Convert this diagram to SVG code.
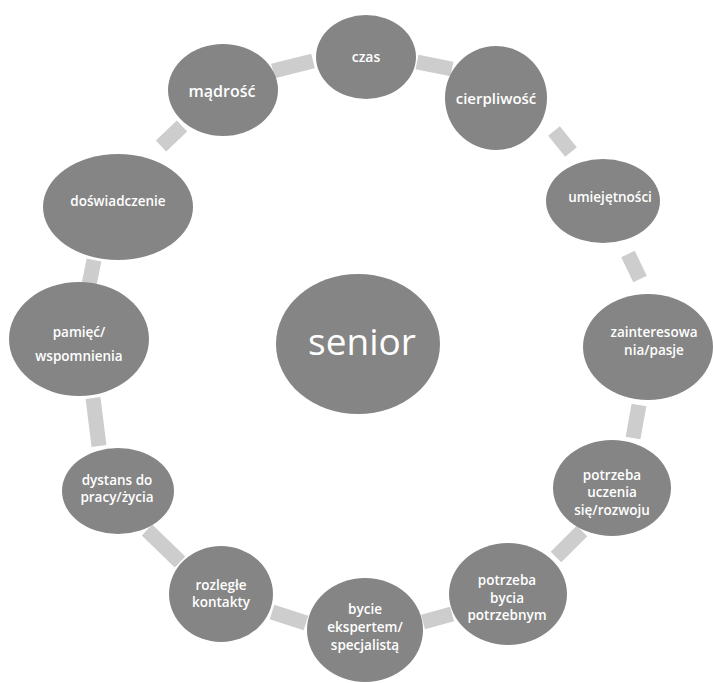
<svg xmlns="http://www.w3.org/2000/svg" width="713" height="683" viewBox="0 0 713 683">
<style>
.n{fill:#858585}
.c line{stroke:#cdcdcd;stroke-width:15}
text{font-family:"Open Sans","Noto Sans",sans-serif;fill:#ffffff;text-anchor:middle;font-size:13.5px;font-weight:600}
</style>
<rect width="713" height="683" fill="#ffffff"/>
<g class="c" id="connectors">
<line x1="273" y1="71" x2="313" y2="61"/>
<line x1="417" y1="62" x2="452" y2="69"/>
<line x1="554" y1="131" x2="571" y2="152"/>
<line x1="628" y1="254" x2="640" y2="279"/>
<line x1="639" y1="405" x2="633" y2="438"/>
<line x1="582" y1="531" x2="556" y2="557"/>
<line x1="452" y1="614" x2="423" y2="622"/>
<line x1="272" y1="612" x2="306" y2="623"/>
<line x1="147" y1="530" x2="180" y2="562"/>
<line x1="93" y1="398" x2="99" y2="446"/>
<line x1="94" y1="260" x2="88" y2="290"/>
<line x1="182" y1="126" x2="161" y2="146"/>
</g>
<g id="senior"><ellipse class="n" cx="358" cy="344" rx="82" ry="70"/><text x="362" y="355" style="font-size:37px;font-weight:400">senior</text></g>
<g id="czas"><ellipse class="n" cx="366" cy="57" rx="50" ry="42"/><text x="366" y="62" style="font-size:14px">czas</text></g>
<g id="madrosc"><ellipse class="n" cx="223" cy="90" rx="55" ry="46"/><text x="222" y="97" style="font-size:16px">mądrość</text></g>
<g id="cierpliwosc"><ellipse class="n" cx="496" cy="98" rx="51" ry="52"/><text x="496" y="104" style="font-size:15px">cierpliwość</text></g>
<g id="umiejetnosci"><ellipse class="n" cx="603" cy="201" rx="57" ry="42"/><text x="610" y="202">umiejętności</text></g>
<g id="zainteresowania"><ellipse class="n" cx="648" cy="347" rx="65" ry="53"/><text x="654" y="337">zainteresowa</text><text x="654" y="355">nia/pasje</text></g>
<g id="potrzeba-uczenia"><ellipse class="n" cx="612" cy="488" rx="59" ry="48"/><text x="612" y="480">potrzeba</text><text x="612" y="497">uczenia</text><text x="612" y="515">się/rozwoju</text></g>
<g id="potrzeba-bycia"><ellipse class="n" cx="508" cy="594" rx="59" ry="51"/><text x="507" y="585">potrzeba</text><text x="507" y="603">bycia</text><text x="507" y="620">potrzebnym</text></g>
<g id="bycie"><ellipse class="n" cx="365" cy="630" rx="58" ry="52"/><text x="365" y="614">bycie</text><text x="365" y="632">ekspertem/</text><text x="365" y="650">specjalistą</text></g>
<g id="rozlegle"><ellipse class="n" cx="221" cy="594" rx="52" ry="48"/><text x="221" y="590">rozległe</text><text x="221" y="607">kontakty</text></g>
<g id="dystans"><ellipse class="n" cx="118" cy="491" rx="56" ry="43"/><text x="117" y="485">dystans do</text><text x="117" y="502">pracy/życia</text></g>
<g id="pamiec"><ellipse class="n" cx="79" cy="339" rx="70" ry="57"/><text x="79" y="337">pamięć/</text><text x="79" y="361">wspomnienia</text></g>
<g id="doswiadczenie"><ellipse class="n" cx="118" cy="207" rx="75" ry="53"/><text x="118" y="206">doświadczenie</text></g>
</svg>
